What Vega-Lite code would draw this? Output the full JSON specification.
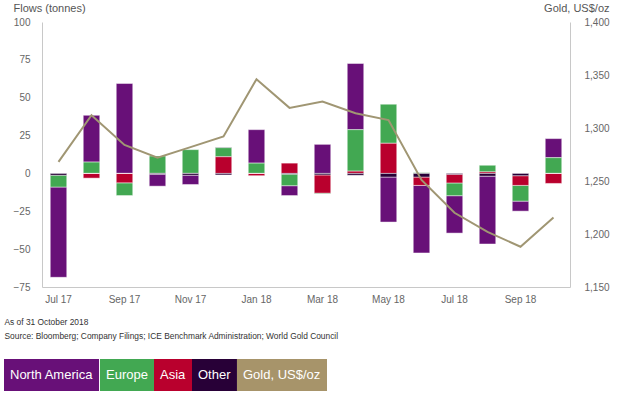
{
  "$schema": "https://vega.github.io/schema/vega-lite/v6.json",
  "width": 528,
  "height": 265,
  "autosize": {"type": "none"},
  "padding": {"left": 42, "top": 22, "right": 52, "bottom": 108},
  "background": "white",
  "config": {
    "view": {"stroke": null},
    "font": "Liberation Sans",
    "axis": {"grid": false, "ticks": false, "tickSize": 0, "domainColor": "#c8c8c8", "domainWidth": 1, "labelColor": "#666666", "labelFontSize": 10, "labelFont": "Liberation Sans", "titleFont": "Liberation Sans", "titleFontWeight": "normal", "titleFontSize": 11, "titleColor": "#555555"}
  },
  "datasets": {
    "flows": [
      {"month": "Jul 17", "series": "North America", "value": -59.6},
      {"month": "Jul 17", "series": "Europe", "value": -7.8},
      {"month": "Jul 17", "series": "Asia", "value": 0},
      {"month": "Jul 17", "series": "Other", "value": -1.2},
      {"month": "Aug 17", "series": "North America", "value": 30.9},
      {"month": "Aug 17", "series": "Europe", "value": 7.5},
      {"month": "Aug 17", "series": "Asia", "value": -3.1},
      {"month": "Aug 17", "series": "Other", "value": 0},
      {"month": "Sep 17", "series": "North America", "value": 59.4},
      {"month": "Sep 17", "series": "Europe", "value": -8.4},
      {"month": "Sep 17", "series": "Asia", "value": -6.2},
      {"month": "Sep 17", "series": "Other", "value": 0},
      {"month": "Oct 17", "series": "North America", "value": -7.8},
      {"month": "Oct 17", "series": "Europe", "value": 11.5},
      {"month": "Oct 17", "series": "Asia", "value": 0},
      {"month": "Oct 17", "series": "Other", "value": -0.6},
      {"month": "Nov 17", "series": "North America", "value": -6.1},
      {"month": "Nov 17", "series": "Europe", "value": 15.7},
      {"month": "Nov 17", "series": "Asia", "value": 0},
      {"month": "Nov 17", "series": "Other", "value": -1.2},
      {"month": "Dec 17", "series": "North America", "value": 0.4},
      {"month": "Dec 17", "series": "Europe", "value": 6.0},
      {"month": "Dec 17", "series": "Asia", "value": 11.0},
      {"month": "Dec 17", "series": "Other", "value": -1.0},
      {"month": "Jan 18", "series": "North America", "value": 22.1},
      {"month": "Jan 18", "series": "Europe", "value": 6.8},
      {"month": "Jan 18", "series": "Asia", "value": -1.5},
      {"month": "Jan 18", "series": "Other", "value": 0},
      {"month": "Feb 18", "series": "North America", "value": -6.5},
      {"month": "Feb 18", "series": "Europe", "value": -7.6},
      {"month": "Feb 18", "series": "Asia", "value": 6.8},
      {"month": "Feb 18", "series": "Other", "value": -0.5},
      {"month": "Mar 18", "series": "North America", "value": 19.2},
      {"month": "Mar 18", "series": "Europe", "value": -0.5},
      {"month": "Mar 18", "series": "Asia", "value": -12.0},
      {"month": "Mar 18", "series": "Other", "value": -1.0},
      {"month": "Apr 18", "series": "North America", "value": 43.7},
      {"month": "Apr 18", "series": "Europe", "value": 27.4},
      {"month": "Apr 18", "series": "Asia", "value": 1.5},
      {"month": "Apr 18", "series": "Other", "value": -1.2},
      {"month": "May 18", "series": "North America", "value": -29.7},
      {"month": "May 18", "series": "Europe", "value": 25.8},
      {"month": "May 18", "series": "Asia", "value": 19.9},
      {"month": "May 18", "series": "Other", "value": -2.4},
      {"month": "Jun 18", "series": "North America", "value": -44.6},
      {"month": "Jun 18", "series": "Europe", "value": 0.5},
      {"month": "Jun 18", "series": "Asia", "value": -5.5},
      {"month": "Jun 18", "series": "Other", "value": -2.4},
      {"month": "Jul 18", "series": "North America", "value": -24.7},
      {"month": "Jul 18", "series": "Europe", "value": -8.4},
      {"month": "Jul 18", "series": "Asia", "value": -5.7},
      {"month": "Jul 18", "series": "Other", "value": -0.6},
      {"month": "Aug 18", "series": "North America", "value": -44.8},
      {"month": "Aug 18", "series": "Europe", "value": 4.4},
      {"month": "Aug 18", "series": "Asia", "value": 1.0},
      {"month": "Aug 18", "series": "Other", "value": -1.8},
      {"month": "Sep 18", "series": "North America", "value": -6.6},
      {"month": "Sep 18", "series": "Europe", "value": -10.4},
      {"month": "Sep 18", "series": "Asia", "value": -6.4},
      {"month": "Sep 18", "series": "Other", "value": -1.5},
      {"month": "Oct 18", "series": "North America", "value": 12.6},
      {"month": "Oct 18", "series": "Europe", "value": 10.4},
      {"month": "Oct 18", "series": "Asia", "value": -6.6},
      {"month": "Oct 18", "series": "Other", "value": 0}
    ],
    "gold": [
      {"month": "Jul 17", "price": 1268},
      {"month": "Aug 17", "price": 1312},
      {"month": "Sep 17", "price": 1284},
      {"month": "Oct 17", "price": 1272},
      {"month": "Nov 17", "price": 1282},
      {"month": "Dec 17", "price": 1292},
      {"month": "Jan 18", "price": 1346},
      {"month": "Feb 18", "price": 1319},
      {"month": "Mar 18", "price": 1325},
      {"month": "Apr 18", "price": 1314},
      {"month": "May 18", "price": 1307.5},
      {"month": "Jun 18", "price": 1251},
      {"month": "Jul 18", "price": 1220},
      {"month": "Aug 18", "price": 1202},
      {"month": "Sep 18", "price": 1188},
      {"month": "Oct 18", "price": 1215.5}
    ]
  },
  "layer": [
    {
      "data": {"name": "flows"},
      "transform": [
        {"calculate": "indexof(['Other','Asia','Europe','North America'], datum.series)", "as": "stackRank"}
      ],
      "mark": {"type": "bar", "stroke": "#ffffff", "strokeWidth": 1, "strokeOpacity": 0.45},
      "encoding": {
        "x": {
          "field": "month", "type": "ordinal",
          "scale": {"domain": ["Jul 17","Aug 17","Sep 17","Oct 17","Nov 17","Dec 17","Jan 18","Feb 18","Mar 18","Apr 18","May 18","Jun 18","Jul 18","Aug 18","Sep 18","Oct 18"], "paddingInner": 0.5, "paddingOuter": 0.25},
          "axis": {
            "labelAngle": 0, "labelPadding": 7,
            "labelExpr": "indexof(['Jul','Sep','Nov','Jan','Mar','May'], slice(datum.label, 0, 3)) >= 0 ? datum.label : ''",
            "title": ["As of 31 October 2018", "Source: Bloomberg; Company Filings; ICE Benchmark Administration; World Gold Council"],
            "titleX": -38, "titleY": 30, "titleAlign": "left", "titleAnchor": "start", "titleBaseline": "top",
            "titleFontSize": 8.4, "titleLineHeight": 14, "titleColor": "#333333", "titleAngle": 0
          }
        },
        "y": {
          "field": "value", "type": "quantitative", "stack": "zero",
          "scale": {"domain": [-75, 100], "nice": false},
          "axis": {
            "values": [-75, -50, -25, 0, 25, 50, 75, 100], "labelPadding": 12,
            "title": "Flows (tonnes)", "titleAngle": 0, "titleX": -29, "titleY": -14, "titleAlign": "left", "titleBaseline": "middle"
          }
        },
        "color": {
          "field": "series", "type": "nominal",
          "scale": {
            "domain": ["North America", "Europe", "Asia", "Other", "Gold, US$/oz"],
            "range": ["#681078", "#42A852", "#B9002D", "#280037", "#A7946A"]
          },
          "legend": {
            "orient": "none", "legendX": -38, "legendY": 337, "direction": "horizontal", "title": null,
            "symbolSize": 1024, "symbolStrokeWidth": 0, "symbolOpacity": 1, "labelOffset": -26,
            "symbolType": {"expr": "datum.value == 'North America' ? 'M-1,-1H4.94V1H-1Z' : datum.value == 'Europe' ? 'M-1,-1H2.375V1H-1Z' : datum.value == 'Asia' ? 'M-1,-1H1.375V1H-1Z' : datum.value == 'Other' ? 'M-1,-1H1.81V1H-1Z' : 'M-1,-1H4.625V1H-1Z'"},
            "labelColor": "#ffffff", "labelFontSize": 13, "labelFont": "Liberation Sans", "labelLimit": 300,
            "columnPadding": 0, "padding": 0
          }
        },
        "order": {"field": "stackRank", "type": "quantitative"}
      }
    },
    {
      "data": {"name": "gold"},
      "mark": {"type": "line", "color": "#A09673", "strokeWidth": 2},
      "encoding": {
        "x": {"field": "month", "type": "ordinal"},
        "y": {
          "field": "price", "type": "quantitative",
          "scale": {"domain": [1150, 1400], "nice": false},
          "axis": {
            "orient": "right", "values": [1150, 1200, 1250, 1300, 1350, 1400], "format": ",.0f", "labelPadding": 14,
            "title": "Gold, US$/oz", "titleAngle": 0, "titleX": 39, "titleY": -14, "titleAlign": "right", "titleBaseline": "middle"
          }
        }
      }
    }
  ],
  "resolve": {"scale": {"y": "independent"}}
}
